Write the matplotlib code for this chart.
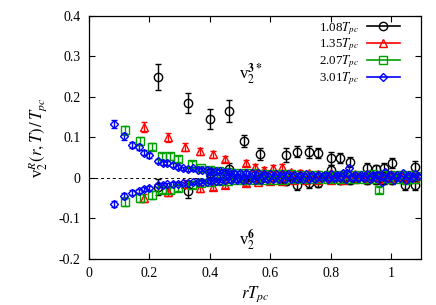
import matplotlib
matplotlib.use("Agg")
import matplotlib.pyplot as plt
from matplotlib.lines import Line2D
from matplotlib.ticker import FuncFormatter

plt.rcParams['font.family'] = ['Liberation Serif', 'DejaVu Serif']
plt.rcParams['mathtext.fontset'] = 'stix'

# 1.08 Tpc (black circles)
r_108_up = [0.228, 0.327, 0.400, 0.463, 0.513, 0.565, 0.651, 0.690, 0.727, 0.757,
            0.800, 0.830, 0.863, 0.920, 0.949, 0.978, 1.005, 1.080]
v_108_up = [0.249, 0.185, 0.146, 0.165, 0.091, 0.059, 0.057, 0.065, 0.065, 0.061,
            0.049, 0.049, 0.039, 0.025, 0.022, 0.025, 0.037, 0.028]
e_108_up = [0.031, 0.025, 0.025, 0.028, 0.014, 0.015, 0.018, 0.014, 0.015, 0.013,
            0.016, 0.013, 0.012, 0.012, 0.010, 0.012, 0.012, 0.014]
r_108_lo = [0.228, 0.327, 0.400, 0.463, 0.513, 0.565, 0.651, 0.690, 0.727, 0.757,
            0.800, 0.830, 0.863, 0.920, 0.949, 0.978, 1.005, 1.045, 1.078]
v_108_lo = [-0.022, -0.032, 0.012, 0.022, -0.004, -0.003, -0.008, -0.017, -0.013, -0.013,
            0.020, -0.005, -0.004, -0.004, -0.005, -0.006, -0.004, -0.017, -0.017]
e_108_lo = [0.020, 0.018, 0.012, 0.014, 0.010, 0.010, 0.010, 0.012, 0.012, 0.010,
            0.012, 0.010, 0.010, 0.010, 0.010, 0.010, 0.010, 0.012, 0.012]

# 1.35 Tpc (red triangles)
r_135_up = [0.182, 0.261, 0.317, 0.367, 0.410, 0.450, 0.520, 0.550, 0.580, 0.610,
            0.640, 0.670, 0.700, 0.730, 0.760, 0.800, 0.840, 0.880, 0.920, 0.960,
            1.000, 1.040, 1.080]
v_135_up = [0.126, 0.100, 0.077, 0.066, 0.058, 0.047, 0.037, 0.027, 0.020, 0.025,
            0.027, 0.014, 0.013, 0.012, 0.010, 0.012, 0.010, 0.009, 0.010, 0.008,
            0.009, 0.008, 0.008]
e_135_up = [0.013, 0.011, 0.010, 0.009, 0.009, 0.008, 0.008, 0.007, 0.007, 0.007,
            0.007, 0.006, 0.006, 0.006, 0.006, 0.006, 0.006, 0.006, 0.006, 0.006,
            0.006, 0.006, 0.006]
r_135_lo = [0.182, 0.261, 0.317, 0.367, 0.410, 0.450, 0.520, 0.560, 0.600, 0.640,
            0.680, 0.720, 0.760, 0.800, 0.840, 0.880, 0.920, 0.960, 1.000, 1.040,
            1.080]
v_135_lo = [-0.049, -0.035, -0.015, -0.026, -0.022, -0.017, -0.012, -0.010, -0.008, -0.007,
            -0.006, -0.005, -0.005, -0.004, -0.004, -0.003, -0.003, -0.003, -0.003, -0.002,
            -0.002]
e_135_lo = [0.010, 0.009, 0.009, 0.008, 0.008, 0.007, 0.007, 0.006, 0.006, 0.006,
            0.006, 0.006, 0.006, 0.006, 0.006, 0.006, 0.006, 0.006, 0.006, 0.006,
            0.006]

# 2.07 Tpc (green squares)
r_207_up = [0.119, 0.169, 0.208, 0.241, 0.268, 0.294, 0.340, 0.370, 0.400, 0.430,
            0.460, 0.490, 0.520, 0.550, 0.580, 0.610, 0.640, 0.670, 0.700, 0.730,
            0.760, 0.790, 0.820, 0.850, 0.880, 0.910, 0.940, 0.970, 1.000, 1.030,
            1.060, 1.090]
v_207_up = [0.118, 0.092, 0.077, 0.053, 0.053, 0.046, 0.035, 0.024, 0.020, 0.017,
            0.015, 0.013, 0.012, 0.011, 0.010, 0.010, 0.009, 0.009, 0.008, 0.008,
            0.008, 0.007, 0.007, 0.007, 0.007, 0.006, 0.009, 0.006, 0.006, 0.006,
            0.006, 0.005]
e_207_up = [0.011, 0.010, 0.009, 0.008, 0.008, 0.007, 0.007, 0.006, 0.006, 0.006,
            0.005, 0.005, 0.005, 0.005, 0.005, 0.005, 0.005, 0.005, 0.005, 0.005,
            0.005, 0.005, 0.005, 0.005, 0.005, 0.005, 0.005, 0.005, 0.005, 0.005,
            0.005, 0.005]
r_207_lo = [0.119, 0.169, 0.208, 0.241, 0.268, 0.294, 0.340, 0.370, 0.400, 0.430,
            0.460, 0.490, 0.520, 0.550, 0.580, 0.610, 0.640, 0.670, 0.700, 0.730,
            0.760, 0.790, 0.820, 0.850, 0.880, 0.910, 0.940, 0.959, 0.990, 1.020,
            1.050, 1.080]
v_207_lo = [-0.059, -0.050, -0.042, -0.030, -0.030, -0.025, -0.017, -0.013, -0.010, -0.008,
            -0.007, -0.006, -0.005, -0.005, -0.004, -0.004, -0.004, -0.003, -0.003, -0.003,
            -0.003, -0.003, -0.002, -0.002, -0.002, -0.002, -0.002, -0.030, -0.002, -0.002,
            -0.004, -0.002]
e_207_lo = [0.011, 0.010, 0.009, 0.008, 0.008, 0.007, 0.007, 0.006, 0.006, 0.006,
            0.005, 0.005, 0.005, 0.005, 0.005, 0.005, 0.005, 0.005, 0.005, 0.005,
            0.005, 0.005, 0.005, 0.005, 0.005, 0.005, 0.005, 0.008, 0.005, 0.005,
            0.005, 0.005]

# 3.01 Tpc (blue diamonds)
r_301_up = [0.083, 0.116, 0.142, 0.165, 0.182, 0.200, 0.228, 0.245, 0.260, 0.278,
            0.294, 0.310, 0.327, 0.344, 0.360, 0.375, 0.390, 0.405, 0.420, 0.435,
            0.450, 0.465, 0.480, 0.500, 0.520, 0.540, 0.560, 0.580, 0.600, 0.620,
            0.640, 0.660, 0.680, 0.700, 0.720, 0.740, 0.760, 0.780, 0.800, 0.820,
            0.840, 0.860, 0.880, 0.900, 0.920, 0.940, 0.960, 0.980, 1.000, 1.020,
            1.040, 1.060, 1.080]
v_301_up = [0.133, 0.103, 0.081, 0.076, 0.062, 0.056, 0.042, 0.037, 0.037, 0.032,
            0.027, 0.024, 0.022, 0.024, 0.020, 0.020, 0.019, 0.018, 0.017, 0.016,
            0.015, 0.014, 0.013, 0.013, 0.012, 0.011, 0.011, 0.010, 0.010, 0.009,
            0.009, 0.009, 0.008, 0.008, 0.009, 0.008, 0.008, 0.007, 0.009, 0.007,
            0.011, 0.024, 0.008, 0.007, 0.009, 0.008, 0.006, 0.014, 0.007, 0.006,
            0.011, 0.007, 0.009]
e_301_up = [0.010, 0.009, 0.008, 0.007, 0.006, 0.006, 0.005, 0.005, 0.005, 0.005,
            0.004, 0.004, 0.004, 0.004, 0.004, 0.004, 0.004, 0.004, 0.004, 0.004,
            0.004, 0.004, 0.004, 0.004, 0.004, 0.004, 0.004, 0.004, 0.004, 0.004,
            0.004, 0.004, 0.004, 0.004, 0.004, 0.004, 0.004, 0.004, 0.004, 0.004,
            0.004, 0.006, 0.004, 0.004, 0.004, 0.004, 0.004, 0.005, 0.004, 0.004,
            0.004, 0.004, 0.004]
r_301_lo = [0.083, 0.116, 0.142, 0.165, 0.182, 0.200, 0.228, 0.245, 0.260, 0.278,
            0.294, 0.310, 0.327, 0.344, 0.360, 0.375, 0.390, 0.405, 0.420, 0.435,
            0.450, 0.470, 0.490, 0.510, 0.530, 0.550, 0.570, 0.590, 0.610, 0.630,
            0.650, 0.670, 0.690, 0.710, 0.730, 0.750, 0.770, 0.790, 0.810, 0.830,
            0.850, 0.870, 0.890, 0.910, 0.930, 0.950, 0.970, 0.990, 1.010, 1.030,
            1.050, 1.070]
v_301_lo = [-0.064, -0.044, -0.037, -0.032, -0.027, -0.025, -0.018, -0.017, -0.016, -0.015,
            -0.014, -0.013, -0.012, -0.011, -0.010, -0.009, -0.009, -0.008, -0.007, -0.007,
            -0.006, -0.006, -0.005, -0.005, -0.004, -0.004, -0.004, -0.003, -0.003, -0.003,
            -0.003, -0.002, -0.002, -0.002, -0.002, -0.002, -0.001, -0.002, -0.001, -0.001,
            -0.002, -0.001, -0.001, -0.001, -0.003, -0.001, -0.010, -0.001, -0.004, -0.001,
            -0.005, -0.001]
e_301_lo = [0.008, 0.007, 0.006, 0.005, 0.005, 0.005, 0.004, 0.004, 0.004, 0.004,
            0.004, 0.004, 0.004, 0.004, 0.004, 0.004, 0.004, 0.004, 0.004, 0.004,
            0.004, 0.004, 0.004, 0.004, 0.004, 0.004, 0.004, 0.004, 0.004, 0.004,
            0.004, 0.004, 0.004, 0.004, 0.004, 0.004, 0.004, 0.004, 0.004, 0.004,
            0.004, 0.004, 0.004, 0.004, 0.004, 0.004, 0.005, 0.004, 0.004, 0.004,
            0.004, 0.004]
# extra 3.01 Tpc points filling the band between the two branches
r_301_mid = [0.400, 0.425, 0.455, 0.475, 0.495, 0.515, 0.535, 0.555, 0.575, 0.595,
             0.615, 0.635, 0.655, 0.675, 0.695, 0.715, 0.735, 0.755, 0.775, 0.795,
             0.815, 0.835, 0.855, 0.875, 0.895, 0.915, 0.935, 0.955, 0.975, 0.995,
             1.015, 1.035, 1.055, 1.075, 1.090]
v_301_mid = [0.004, 0.003, 0.004, 0.002, 0.003, 0.003, 0.002, 0.004, 0.002, 0.003,
             0.002, 0.003, 0.004, 0.002, 0.003, 0.002, 0.003, 0.002, 0.004, 0.003,
             0.002, 0.004, 0.012, 0.003, 0.002, 0.005, 0.003, 0.008, 0.002, 0.006,
             0.003, 0.004, 0.002, 0.003, 0.004]
e_301_mid = [0.004, 0.004, 0.004, 0.004, 0.004, 0.004, 0.004, 0.004, 0.004, 0.004,
             0.004, 0.004, 0.004, 0.004, 0.004, 0.004, 0.004, 0.004, 0.004, 0.004,
             0.004, 0.004, 0.006, 0.004, 0.004, 0.005, 0.004, 0.006, 0.004, 0.005,
             0.004, 0.004, 0.004, 0.004, 0.004]

series = [
    ("1.08$T_{pc}$", "black", "o", 6.0,
     r_108_up + r_108_lo, v_108_up + v_108_lo, e_108_up + e_108_lo),
    ("1.35$T_{pc}$", "#ff0000", "^", 5.5,
     r_135_up + r_135_lo, v_135_up + v_135_lo, e_135_up + e_135_lo),
    ("2.07$T_{pc}$", "#00a000", "s", 5.5,
     r_207_up + r_207_lo, v_207_up + v_207_lo, e_207_up + e_207_lo),
    ("3.01$T_{pc}$", "#0000ff", "D", 3.8,
     r_301_up + r_301_lo + r_301_mid, v_301_up + v_301_lo + v_301_mid,
     e_301_up + e_301_lo + e_301_mid),
]

fig = plt.figure(figsize=(4.36, 3.05), dpi=100)
ax = fig.add_axes([0.204, 0.151, 0.762, 0.797])

handles = []
for label, col, mk, ms, r, v, e in series:
    ax.errorbar(r, v, yerr=e, fmt=mk, color=col, mfc='none', mec=col,
                ms=ms, mew=1.0, elinewidth=1.0, capsize=2.0, capthick=1.0)
    handles.append(Line2D([], [], color=col, marker=mk, mfc='none', mec=col,
                          ms=ms, mew=1.0, lw=1.2))

ax.axhline(0, color='black', ls=(0, (3, 3)), lw=0.7, zorder=0)

ax.set_xlim(0, 1.1)
ax.set_ylim(-0.2, 0.4)
ax.set_xticks([0, 0.2, 0.4, 0.6, 0.8, 1.0])
ax.set_yticks([-0.2, -0.1, 0, 0.1, 0.2, 0.3, 0.4])
fmt = FuncFormatter(lambda x, pos: ('%g' % round(x, 2)))
ax.xaxis.set_major_formatter(fmt)
ax.yaxis.set_major_formatter(fmt)
ax.tick_params(direction='in', top=True, right=True, length=4, width=0.8,
               labelsize=10, pad=6)
for s in ax.spines.values():
    s.set_linewidth(0.9)

ax.set_xlabel(r'$rT_{pc}$', fontsize=12, labelpad=3)
ax.set_ylabel(r'v$_2^R(r,T)\,/\,T_{pc}$', fontsize=12, labelpad=6)

ax.text(0.535, 0.255, r'v$_2^{\mathbf{3*}}$', fontsize=12, ha='center', va='center')
ax.text(0.525, -0.155, r'v$_2^{\mathbf{6}}$', fontsize=12, ha='center', va='center')

leg = ax.legend(handles, [s[0] for s in series], loc='upper right',
                bbox_to_anchor=(0.958, 1.012),
                frameon=False, markerfirst=False, numpoints=1, fontsize=9.3,
                handlelength=2.6, labelspacing=0.0, borderaxespad=0.15,
                handletextpad=0.6)

fig.savefig('out.png', dpi=100)
